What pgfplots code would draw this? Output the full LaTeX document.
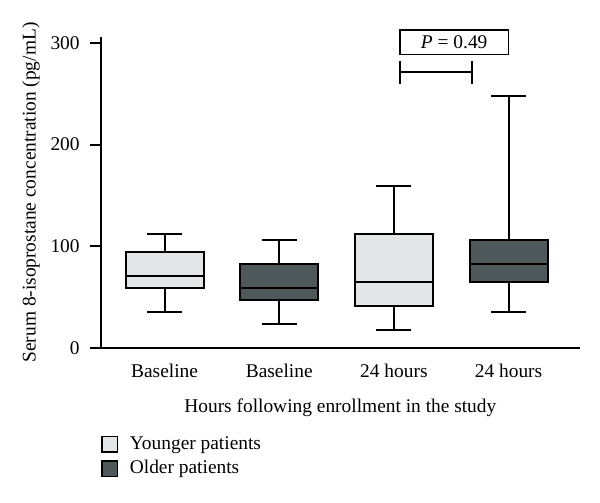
\documentclass[border=0pt]{standalone}
\usepackage{fontspec}
\setmainfont{Liberation Serif}
\usepackage{pgfplots}
\pgfplotsset{compat=1.18}
\usepgfplotslibrary{statistics}
\definecolor{young}{HTML}{E2E6E6}
\definecolor{old}{HTML}{4E585A}

\begin{document}
\begin{tikzpicture}[font=\fontsize{9.7}{11.6}\selectfont]
\path[use as bounding box] (0,0) rectangle (300pt,-251.5pt);
\begin{axis}[
  at={(50.35pt,-174.15pt)}, anchor=south west,
  scale only axis, width=239.65pt, height=155.8pt,
  xmin=0.443, xmax=4.623, ymin=0, ymax=306,
  axis lines*=left,
  axis line style={line width=1pt},
  clip=false,
  tick align=outside,
  major tick length=5.5pt,
  ytick={0,100,200,300},
  ytick style={line width=1pt, black},
  yticklabel style={xshift=-1.5pt},
  xtick={1,2,3,4},
  xticklabels={Baseline, Baseline, 24 hours, 24 hours},
  xtick style={draw=none},
  xticklabel style={yshift=1pt},
  /pgf/number format/assume math mode=true,
  xlabel={Hours following enrollment in the study},
  ylabel={Serum 8-isoprostane concentration (pg/mL)},
  xlabel style={at={(axis description cs:0.5,-0.192)}, anchor=center},
  ylabel style={at={(axis description cs:-0.1454,0.5)}, anchor=center},
  boxplot/draw direction=y,
  legend cell align=left,
  legend style={at={(axis description cs:0,-0.272)}, anchor=north west,
    draw=none, fill=none, inner sep=0pt, row sep=1.15pt,
    nodes={inner sep=1pt, text height=7pt, text depth=2pt}},
  boxstyle/.style={draw=black, line width=1pt, solid, mark=none},
]
\addplot[boxstyle, fill=young, forget plot, boxplot prepared={draw position=1,
  lower whisker=35.3, lower quartile=58.9, median=71.0,
  upper quartile=94.5, upper whisker=111.9, box extend=0.68, whisker extend=0.305}]
  coordinates {};
\addplot[boxstyle, fill=old, forget plot, boxplot prepared={draw position=2,
  lower whisker=23.9, lower quartile=47.1, median=58.9,
  upper quartile=82.5, upper whisker=106.3, box extend=0.68, whisker extend=0.305}]
  coordinates {};
\addplot[boxstyle, fill=young, forget plot, boxplot prepared={draw position=3,
  lower whisker=18.0, lower quartile=41.5, median=64.8,
  upper quartile=111.9, upper whisker=159.6, box extend=0.68, whisker extend=0.305}]
  coordinates {};
\addplot[boxstyle, fill=old, forget plot, boxplot prepared={draw position=4,
  lower whisker=35.6, lower quartile=64.8, median=82.5,
  upper quartile=106.3, upper whisker=247.4, box extend=0.68, whisker extend=0.305}]
  coordinates {};

\addlegendimage{legend image code/.code={\path (12.8pt,0pt);\draw[line width=0.8pt, draw=black, fill=young] (0pt,-3.9pt) rectangle (7.8pt,3.9pt);}}
\addlegendentry{Younger patients}
\addlegendimage{legend image code/.code={\path (12.8pt,0pt);\draw[line width=0.8pt, draw=black, fill=old] (0pt,-3.9pt) rectangle (7.8pt,3.9pt);}}
\addlegendentry{Older patients}

% significance bracket
\draw[line width=1pt] (axis cs:3.053,282.3) -- (axis cs:3.053,259.4)
  (axis cs:3.053,270.9) -- (axis cs:3.679,270.9)
  (axis cs:3.679,282.3) -- (axis cs:3.679,259.4);
\draw[line width=0.8pt] (axis cs:3.053,288.6) rectangle (axis cs:3.998,312.5);
\node at (axis cs:3.526,300.5) {\textit{P} = 0.49};
\end{axis}
\end{tikzpicture}
\end{document}
